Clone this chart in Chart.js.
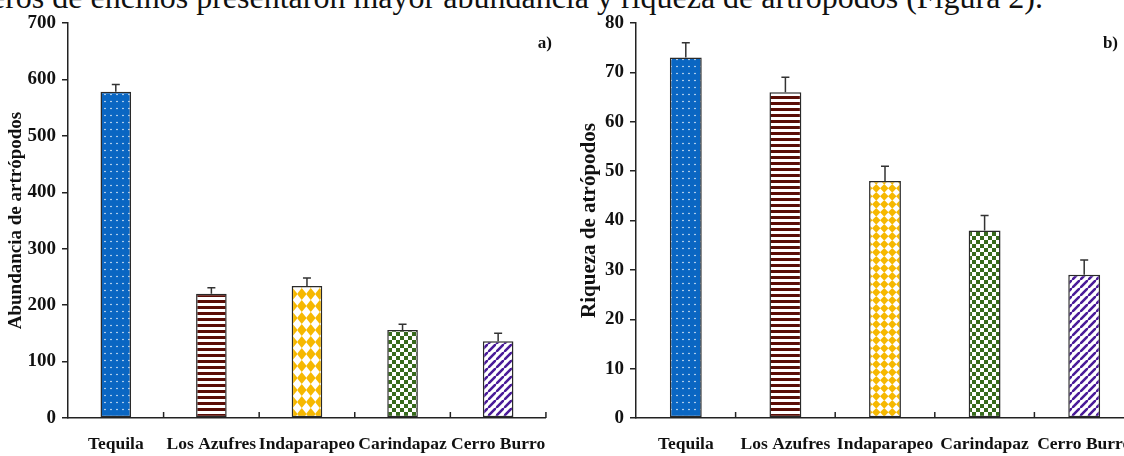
<!DOCTYPE html>
<html>
<head>
<meta charset="utf-8">
<script src="https://cdn.jsdelivr.net/npm/chart.js@4.4.1/dist/chart.umd.min.js"></script>
<style>
  body { margin: 0; width: 1124px; height: 456px; overflow: hidden; background: #fff; position: relative; }
  #texto { position: absolute; right: 81px; top: -19px; white-space: nowrap;
           font: 32px/32px "Liberation Serif", "Times New Roman", serif; color: #111; }
  #izq { position: absolute; left: 0; top: 0; }
  #der { position: absolute; left: 560px; top: 0; }
</style>
</head>
<body>
<div id="texto">eros de encinos presentaron mayor abundancia y riqueza de artrópodos (Figura 2).</div>
<canvas id="izq" width="562" height="456"></canvas>
<canvas id="der" width="600" height="456"></canvas>
<script>
// datos de la figura
var sitios = ['Tequila', 'Los Azufres', 'Indaparapeo', 'Carindapaz', 'Cerro Burro'];
var abundancia = [578, 220, 234, 156, 136];
var abundanciaEE = [13, 11, 14, 10, 14];
var riqueza = [73, 66, 48, 38, 29];
var riquezaEE = [3, 3, 3, 3, 3];
var maxAbundancia = 700, pasoAbundancia = 100;
var maxRiqueza = 80, pasoRiqueza = 10;

Chart.defaults.font.family = '"Liberation Serif", "Times New Roman", serif';
Chart.defaults.color = '#111';

// rellenos con trama
function patron(tipo, color, w, h) {
	var c = document.createElement('canvas');
	c.width = w; c.height = h;
	var g = c.getContext('2d');
	g.fillStyle = '#fff';
	g.fillRect(0, 0, w, h);
	g.fillStyle = color;
	g.strokeStyle = color;
	if (tipo == 'puntos') {
		g.fillRect(0, 0, w, h);
		g.fillStyle = '#fff';
		g.beginPath(); g.arc(w / 2, h / 2, 0.75, 0, Math.PI * 2); g.fill();
	} else if (tipo == 'rayas') {
		g.fillRect(0, 0, w, h / 2);
	} else if (tipo == 'rombos') {
		g.beginPath();
		g.moveTo(w / 2, 0); g.lineTo(w, h / 2); g.lineTo(w / 2, h); g.lineTo(0, h / 2);
		g.closePath(); g.fill();
	} else if (tipo == 'cuadros') {
		g.fillRect(0, 0, w / 2, h / 2);
		g.fillRect(w / 2, h / 2, w / 2, h / 2);
	} else if (tipo == 'diagonal') {
		g.lineWidth = 2.6;
		g.beginPath();
		g.moveTo(-1, h + 1); g.lineTo(w + 1, -1);
		g.moveTo(-2, 1); g.lineTo(1, -2);
		g.moveTo(w - 1, h + 2); g.lineTo(w + 2, h - 1);
		g.stroke();
	}
	return g.createPattern(c, 'repeat');
}

function rellenos(rombo) {
	return [
		patron('puntos', '#0a66c2', 6, 7),
		patron('rayas', '#5a0d06', 4, 6),
		patron('rombos', '#f6b800', rombo[0], rombo[1]),
		patron('cuadros', '#376a1c', 8, 8),
		patron('diagonal', '#4a1a98', 8, 8)
	];
}

var barrasError = {
	id: 'barrasError',
	afterDatasetsDraw: function(chart, args, opts) {
		var ctx = chart.ctx, ys = chart.scales.y;
		var meta = chart.getDatasetMeta(0);
		var datos = chart.data.datasets[0].data;
		ctx.save();
		ctx.strokeStyle = '#333';
		ctx.lineWidth = 1.5;
		meta.data.forEach(function(bar, i) {
			var yTop = ys.getPixelForValue(datos[i] + opts.errores[i]);
			ctx.beginPath();
			ctx.moveTo(bar.x, bar.y);
			ctx.lineTo(bar.x, yTop);
			ctx.moveTo(bar.x - 4, yTop);
			ctx.lineTo(bar.x + 4, yTop);
			ctx.stroke();
		});
		ctx.restore();
	}
};

// marcas hacia adentro entre categorias y letra del panel
var marcasX = {
	id: 'marcasX',
	afterDraw: function(chart, args, opts) {
		var ctx = chart.ctx, xs = chart.scales.x, area = chart.chartArea;
		var n = chart.data.labels.length;
		var paso = xs.getPixelForValue(1) - xs.getPixelForValue(0);
		ctx.save();
		ctx.strokeStyle = '#222';
		ctx.lineWidth = 1.5;
		for (var i = 0; i < n; i++) {
			var x = xs.getPixelForValue(i) + paso / 2;
			ctx.beginPath();
			ctx.moveTo(x, area.bottom);
			ctx.lineTo(x, area.bottom - 6);
			ctx.stroke();
		}
		ctx.fillStyle = '#111';
		ctx.font = 'bold 17px "Liberation Serif", serif';
		ctx.textAlign = 'right';
		ctx.textBaseline = 'middle';
		ctx.fillText(opts.letra, opts.x, opts.y);
		ctx.restore();
	}
};

function grafica(id, valores, errores, maximo, paso, titulo, tamTitulo, rombo, pad, anchoEje, letra, letraX) {
	var ctx = document.getElementById(id).getContext('2d');
	return new Chart(ctx, {
		type: 'bar',
		data: {
			labels: sitios,
			datasets: [{
				data: valores,
				backgroundColor: rellenos(rombo),
				borderColor: '#2a2a2a',
				borderWidth: 1.5,
				borderSkipped: false,
				categoryPercentage: 1,
				barPercentage: 0.32
			}]
		},
		options: {
			responsive: false,
			animation: false,
			layout: { padding: pad },
			plugins: {
				legend: { display: false },
				tooltip: { enabled: false },
				barrasError: { errores: errores },
				marcasX: { letra: letra, x: letraX, y: 44 }
			},
			scales: {
				x: {
					grid: { display: false, drawTicks: false },
					border: { display: true, color: '#222', width: 1.5 },
					ticks: { font: { size: 17.5, weight: 'bold' }, padding: 16, maxRotation: 0, autoSkip: false },
					afterFit: function(s) { s.height = 38; }
				},
				y: {
					min: 0,
					max: maximo,
					grid: { drawOnChartArea: false, tickLength: 6, color: '#222', lineWidth: 1.5 },
					border: { display: true, color: '#222', width: 1.5 },
					ticks: { stepSize: paso, font: { size: 19, weight: 'bold' }, padding: 6 },
					title: { display: true, text: titulo, font: { size: tamTitulo, weight: 'bold' }, padding: { top: 5, bottom: 0 } },
					afterFit: function(s) { s.width = anchoEje; }
				}
			}
		},
		plugins: [barrasError, marcasX]
	});
}

grafica('izq', abundancia, abundanciaEE, maxAbundancia, pasoAbundancia,
	'Abundancia de artrópodos', 19, [9.5, 12], { top: 23, right: 8, left: 0, bottom: 0 }, 68, 'a)', 552);
grafica('der', riqueza, riquezaEE, maxRiqueza, pasoRiqueza,
	'Riqueza de atrópodos', 21, [8.5, 8.7], { top: 23, right: 26, left: 12, bottom: 0 }, 64, 'b)', 558);
</script>
</body>
</html>
